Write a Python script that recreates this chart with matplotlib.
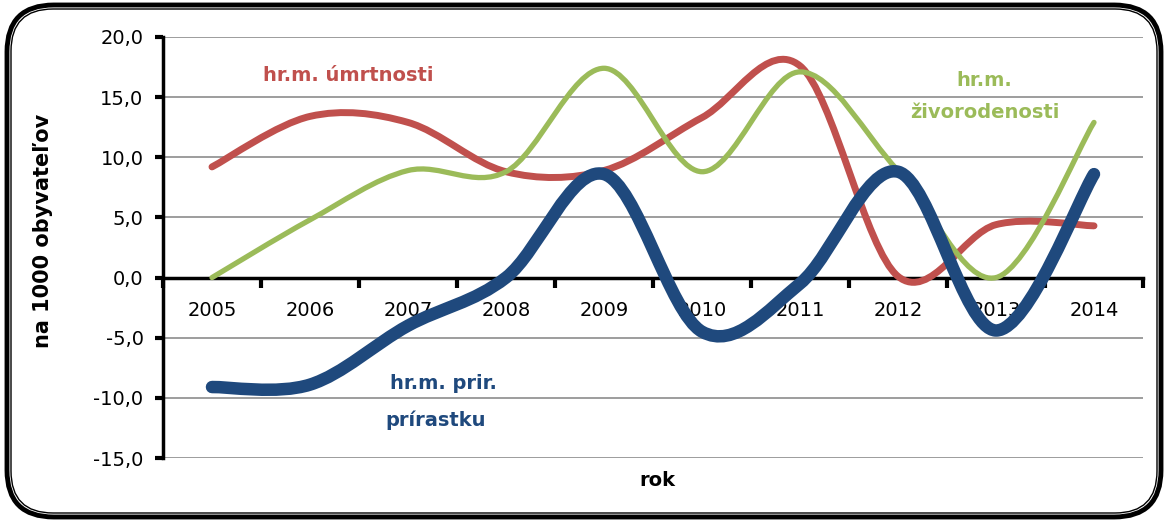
import matplotlib.pyplot as plt
from matplotlib.path import Path
from matplotlib.patches import PathPatch, FancyBboxPatch

# data
roky = ['2005', '2006', '2007', '2008', '2009', '2010', '2011', '2012', '2013', '2014']
umrtnost = [9.2, 13.4, 12.9, 8.8, 8.9, 13.3, 17.6, 0.1, 4.4, 4.3]
zivorodenost = [0.0, 4.8, 8.9, 8.8, 17.4, 8.8, 17.1, 8.9, 0.0, 12.9]
prirastok = [-9.1, -8.9, -4.0, 0.0, 8.6, -4.5, -0.5, 8.8, -4.4, 8.6]

plt.rcParams['font.family'] = ['DejaVu Sans']


def smooth(xs, ys):
    # hladka krivka ako v Exceli (bezier)
    n = len(xs)
    verts = [(xs[0], ys[0])]
    codes = [Path.MOVETO]
    for i in range(n - 1):
        a = max(i - 1, 0)
        b = min(i + 2, n - 1)
        c1 = (xs[i] + (xs[i + 1] - xs[a]) / 6, ys[i] + (ys[i + 1] - ys[a]) / 6)
        c2 = (xs[i + 1] - (xs[b] - xs[i]) / 6, ys[i + 1] - (ys[b] - ys[i]) / 6)
        verts += [c1, c2, (xs[i + 1], ys[i + 1])]
        codes += [Path.CURVE4] * 3
    return Path(verts, codes)


fig = plt.figure(figsize=(11.68, 5.24), dpi=100)
ax = fig.add_axes([163 / 1168, 1 - 458 / 524, 980 / 1168, 421 / 524])

x = list(range(len(roky)))
for ys, col, lw in [(umrtnost, '#C0504D', 5.0), (zivorodenost, '#9BBB59', 3.8), (prirastok, '#1F497D', 9.0)]:
    ax.add_patch(PathPatch(smooth(x, ys), fill=False, edgecolor=col, lw=lw,
                           capstyle='round', joinstyle='round', zorder=3))

ax.set_xlim(-0.5, 9.5)
ax.set_ylim(-15, 20)
ax.set_yticks(range(-15, 21, 5))
ax.set_yticklabels([f'{v},0' for v in range(-15, 21, 5)])
ax.yaxis.grid(True, color='#8c8c8c', lw=1.2)
ax.set_axisbelow(True)

ax.set_xticks([i - 0.5 for i in range(11)])
ax.set_xticklabels([])
ax.set_xticks(x, minor=True)
ax.set_xticklabels(roky, minor=True)
ax.tick_params(axis='x', which='major', direction='out', length=7, width=3)
ax.tick_params(axis='x', which='minor', length=0, pad=17, labelsize=14)
ax.tick_params(axis='y', direction='out', length=6, width=3, pad=8, labelsize=14)

for s in ['top', 'right']:
    ax.spines[s].set_visible(False)
ax.spines['bottom'].set_position(('data', 0))
ax.spines['bottom'].set_linewidth(2.5)
ax.spines['left'].set_linewidth(2.5)

ax.set_ylabel('na 1000 obyvateľov', fontsize=15, fontweight='bold')
ax.yaxis.set_label_coords(-0.112, 0.54)
fig.text(657 / 1168, 1 - 480 / 524, 'rok', fontsize=14, fontweight='bold', ha='center', va='center')

ax.text(1.39, 16.8, 'hr.m. úmrtnosti', color='#C0504D', fontsize=14, fontweight='bold', ha='center', va='center')
ax.text(7.88, 16.4, 'hr.m.', color='#9BBB59', fontsize=14, fontweight='bold', ha='center', va='center')
ax.text(7.89, 13.7, 'živorodenosti', color='#9BBB59', fontsize=14, fontweight='bold', ha='center', va='center')
ax.text(2.36, -8.8, 'hr.m. prir.', color='#1F497D', fontsize=14, fontweight='bold', ha='center', va='center')
ax.text(2.28, -11.85, 'prírastku', color='#1F497D', fontsize=14, fontweight='bold', ha='center', va='center')

# zaoblený rám
fig.patches.append(FancyBboxPatch((7 / 1168, 7 / 524), 1154 / 1168, 512 / 524,
                                  boxstyle='round,pad=0,rounding_size=0.04', transform=fig.transFigure,
                                  fill=False, lw=3.5, edgecolor='black', mutation_aspect=1168 / 524))
fig.patches.append(FancyBboxPatch((11 / 1168, 11 / 524), 1146 / 1168, 504 / 524,
                                  boxstyle='round,pad=0,rounding_size=0.036', transform=fig.transFigure,
                                  fill=False, lw=1, edgecolor='black', mutation_aspect=1168 / 524))

fig.savefig('out.png', dpi=100)
